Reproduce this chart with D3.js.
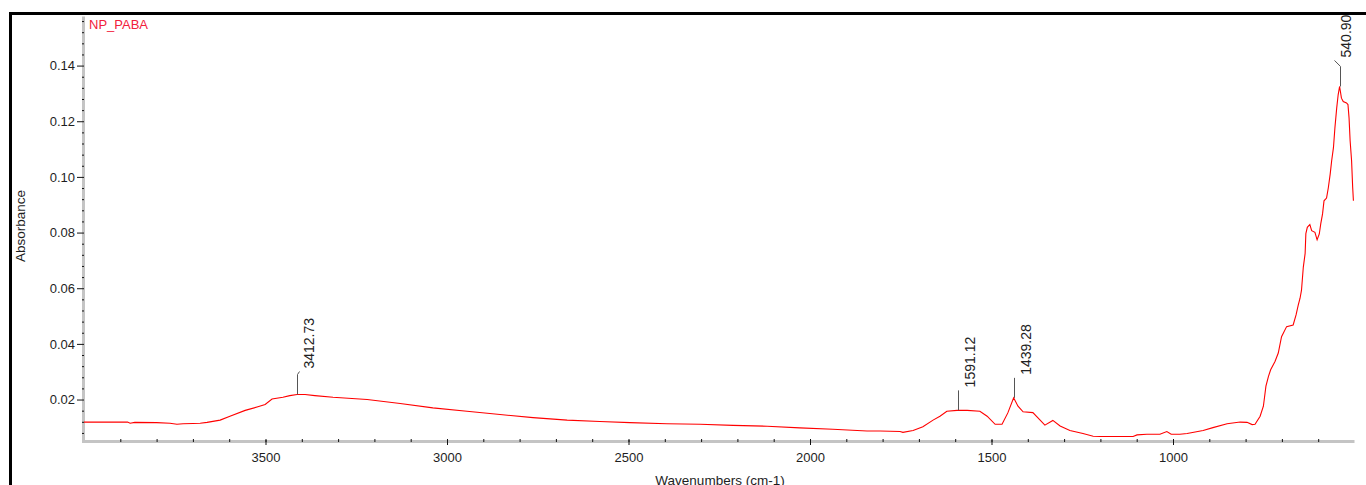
<!DOCTYPE html>
<html>
<head>
<meta charset="utf-8">
<script src="https://cdn.jsdelivr.net/npm/d3@7"></script>
<style>
  body { margin: 0; background: #fff; overflow: hidden; }
  svg { display: block; font-family: Arial, "Liberation Sans", sans-serif; }
  .axis text { font-size: 13px; fill: #1e1e1e; }
  .axis line { stroke: #111; }
  .axis-title { font-size: 13.5px; fill: #1e1e1e; }
  .peak-label { font-size: 14px; fill: #222; }
</style>
</head>
<body>
<svg id="chart"></svg>
<script>
// spectrum (cm-1 / absorbance)
const wavenumbers = [
  4000, 3950, 3880, 3873, 3860, 3800, 3763, 3744, 3727, 3700, 3680, 3661, 3625, 3598, 3556, 3521,
  3501, 3482, 3452, 3433, 3413, 3391, 3364, 3314, 3220, 3129, 3039, 2945, 2854, 2763, 2669, 2579,
  2496, 2394, 2303, 2212, 2118, 2028, 1937, 1843, 1807, 1752, 1744, 1716, 1689, 1661, 1642, 1623,
  1595, 1567, 1532, 1512, 1490, 1471, 1455, 1439, 1427, 1413, 1386, 1366, 1353, 1331, 1311, 1284,
  1248, 1220, 1201, 1150, 1110, 1099, 1072, 1036, 1017, 1005, 981, 961, 917, 890, 851, 815,
  796, 782, 774, 760, 751, 744, 737, 731, 719, 710, 701, 687, 669, 661, 655, 650,
  646, 641, 636, 634, 630, 623, 618, 609, 603, 597, 593, 588, 584, 577, 572, 567,
  563, 558, 554, 549, 545, 541, 536, 531, 522, 518, 515, 512, 508, 505, 503
];
const absorbance = [
  0.0119, 0.0119, 0.0119, 0.0115, 0.0118, 0.0117, 0.0115, 0.0111, 0.0113, 0.0114, 0.0115, 0.0118, 0.0126, 0.0140, 0.0161, 0.0174,
  0.0182, 0.0202, 0.0208, 0.0214, 0.0218, 0.0218, 0.0214, 0.0208, 0.0200, 0.0186, 0.0170, 0.0158, 0.0146, 0.0135, 0.0126, 0.0121,
  0.0117, 0.0113, 0.0111, 0.0107, 0.0104, 0.0098, 0.0093, 0.0087, 0.0087, 0.0085, 0.0082, 0.0089, 0.0102, 0.0126, 0.0140, 0.0158,
  0.0161, 0.0161, 0.0158, 0.0140, 0.0111, 0.0111, 0.0152, 0.0206, 0.0176, 0.0156, 0.0153, 0.0126, 0.0108, 0.0125, 0.0105, 0.0089,
  0.0078, 0.0068, 0.0067, 0.0067, 0.0067, 0.0073, 0.0075, 0.0075, 0.0085, 0.0075, 0.0075, 0.0078, 0.0089, 0.0099, 0.0113, 0.0119,
  0.0118, 0.0110, 0.0111, 0.0140, 0.0176, 0.0248, 0.0283, 0.0307, 0.0337, 0.0367, 0.0426, 0.0462, 0.0468, 0.0504, 0.0539, 0.0564,
  0.0593, 0.0676, 0.0725, 0.0796, 0.0819, 0.0829, 0.0807, 0.0801, 0.0774, 0.0795, 0.0831, 0.0867, 0.0914, 0.0924, 0.0962, 0.1010,
  0.1057, 0.1105, 0.1176, 0.1248, 0.1295, 0.1325, 0.1283, 0.1271, 0.1266, 0.1260, 0.1212, 0.1129, 0.1057, 0.0962, 0.0914
];

// labelled peaks
const peakWavenumbers = [3412.73, 1591.12, 1439.28, 540.90];
const peakAbsorbance = [0.0218, 0.0161, 0.0206, 0.1325];
const peakLabels = ['3412.73', '1591.12', '1439.28', '540.90'];

// ticks
const xMajorTicks = [3500, 3000, 2500, 2000, 1500, 1000];
const xMinorTicks = d3.range(3900, 599, -100);
const yMajorTicks = [0.02, 0.04, 0.06, 0.08, 0.10, 0.12, 0.14];
const yMinorTicks = d3.range(0.008, 0.1575, 0.004);

const sampleName = 'NP_PABA';
const xTitle = 'Wavenumbers (cm-1)';
const yTitle = 'Absorbance';

class SpectrumChart {
  constructor(_config) {
    this.config = {
      parentElement: _config.parentElement,
      containerWidth: _config.containerWidth || 1366,
      containerHeight: _config.containerHeight || 485,
      plot: _config.plot || {left: 84, right: 1354.5, top: 15.5, bottom: 441}
    };
    this.initVis();
  }

  initVis() {
    let vis = this;
    const p = vis.config.plot;

    vis.svg = d3.select(vis.config.parentElement)
        .attr('width', vis.config.containerWidth)
        .attr('height', vis.config.containerHeight);

    vis.xScale = d3.scaleLinear()
        .domain([4000, 500])
        .range([p.left, p.right]);

    vis.yScale = d3.scaleLinear()
        .domain([0.0051, 0.158])
        .range([p.bottom, p.top]);

    // outer frame (left + top edges are visible)
    vis.svg.append('path')
        .attr('d', `M10.5,${vis.config.containerHeight + 5} L10.5,13.5 L${vis.config.containerWidth + 5},13.5`)
        .attr('fill', 'none')
        .attr('stroke', '#000')
        .attr('stroke-width', 3);

    // gray axis bars
    vis.svg.append('line')
        .attr('x1', p.left - 0.5).attr('x2', p.left - 0.5)
        .attr('y1', p.top + 1).attr('y2', p.bottom)
        .attr('stroke', '#c4c4c4').attr('stroke-width', 3);
    vis.svg.append('line')
        .attr('x1', p.left - 2).attr('x2', p.right)
        .attr('y1', p.bottom + 0.5).attr('y2', p.bottom + 0.5)
        .attr('stroke', '#c4c4c4').attr('stroke-width', 3);

    vis.renderVis();
  }

  renderVis() {
    let vis = this;
    const p = vis.config.plot;

    // x axis
    const xMinor = d3.axisBottom(vis.xScale).tickValues(xMinorTicks).tickSize(3).tickFormat('');
    const xMajor = d3.axisBottom(vis.xScale).tickValues(xMajorTicks).tickSize(5).tickPadding(8)
        .tickFormat(d3.format('d'));
    vis.svg.append('g').attr('class', 'axis')
        .attr('transform', `translate(0,${p.bottom - 2})`)
        .call(xMinor)
        .call(g => g.select('.domain').remove());
    vis.svg.append('g').attr('class', 'axis')
        .attr('transform', `translate(0,${p.bottom - 1})`)
        .call(xMajor)
        .call(g => g.select('.domain').remove());

    // y axis
    const yMinor = d3.axisLeft(vis.yScale).tickValues(yMinorTicks).tickSize(2).tickFormat('');
    const yMajor = d3.axisLeft(vis.yScale).tickValues(yMajorTicks).tickSize(5).tickPadding(2)
        .tickFormat(d3.format('.2f'));
    vis.svg.append('g').attr('class', 'axis')
        .attr('transform', `translate(${p.left},0)`)
        .call(yMinor)
        .call(g => g.select('.domain').remove());
    vis.svg.append('g').attr('class', 'axis')
        .attr('transform', `translate(${p.left - 2},0)`)
        .call(yMajor)
        .call(g => g.select('.domain').remove());

    // axis titles
    vis.svg.append('text')
        .attr('class', 'axis-title')
        .attr('x', 720).attr('y', 485)
        .style('text-anchor', 'middle')
        .text(xTitle);
    vis.svg.append('text')
        .attr('class', 'axis-title')
        .attr('transform', 'translate(25,226) rotate(-90)')
        .style('text-anchor', 'middle')
        .text(yTitle);

    // sample name
    vis.svg.append('text')
        .attr('x', p.left + 5).attr('y', 29)
        .attr('fill', '#f2203c')
        .style('font-size', '13px')
        .text(sampleName);

    // spectrum line
    const pts = wavenumbers.map((w, i) => [w, absorbance[i]]);
    const line = d3.line()
        .x(d => vis.xScale(d[0]))
        .y(d => vis.yScale(d[1]));
    vis.svg.append('path')
        .datum(pts)
        .attr('fill', 'none')
        .attr('stroke', '#ff0000')
        .attr('stroke-width', 1.1)
        .attr('d', line);

    // peak markers
    const hookDx = [2, 0, 0, -6];
    const hookDy = [3, 0, 0, 6];
    const labelDx = [16, 16, 16, 10];
    peakWavenumbers.forEach((w, i) => {
      const px = Math.round(vis.xScale(w)) + 0.5;
      const py = vis.yScale(peakAbsorbance[i]);
      const top = py - 20;
      vis.svg.append('path')
          .attr('d', `M${px},${py} L${px},${top} L${px + hookDx[i]},${top - hookDy[i]}`)
          .attr('fill', 'none')
          .attr('stroke', '#555')
          .attr('stroke-width', 1);
      vis.svg.append('text')
          .attr('class', 'peak-label')
          .attr('transform', `translate(${px + labelDx[i]},${top - hookDy[i] - 3}) rotate(-90)`)
          .text(peakLabels[i]);
    });
  }
}

new SpectrumChart({parentElement: '#chart'});
</script>
</body>
</html>
